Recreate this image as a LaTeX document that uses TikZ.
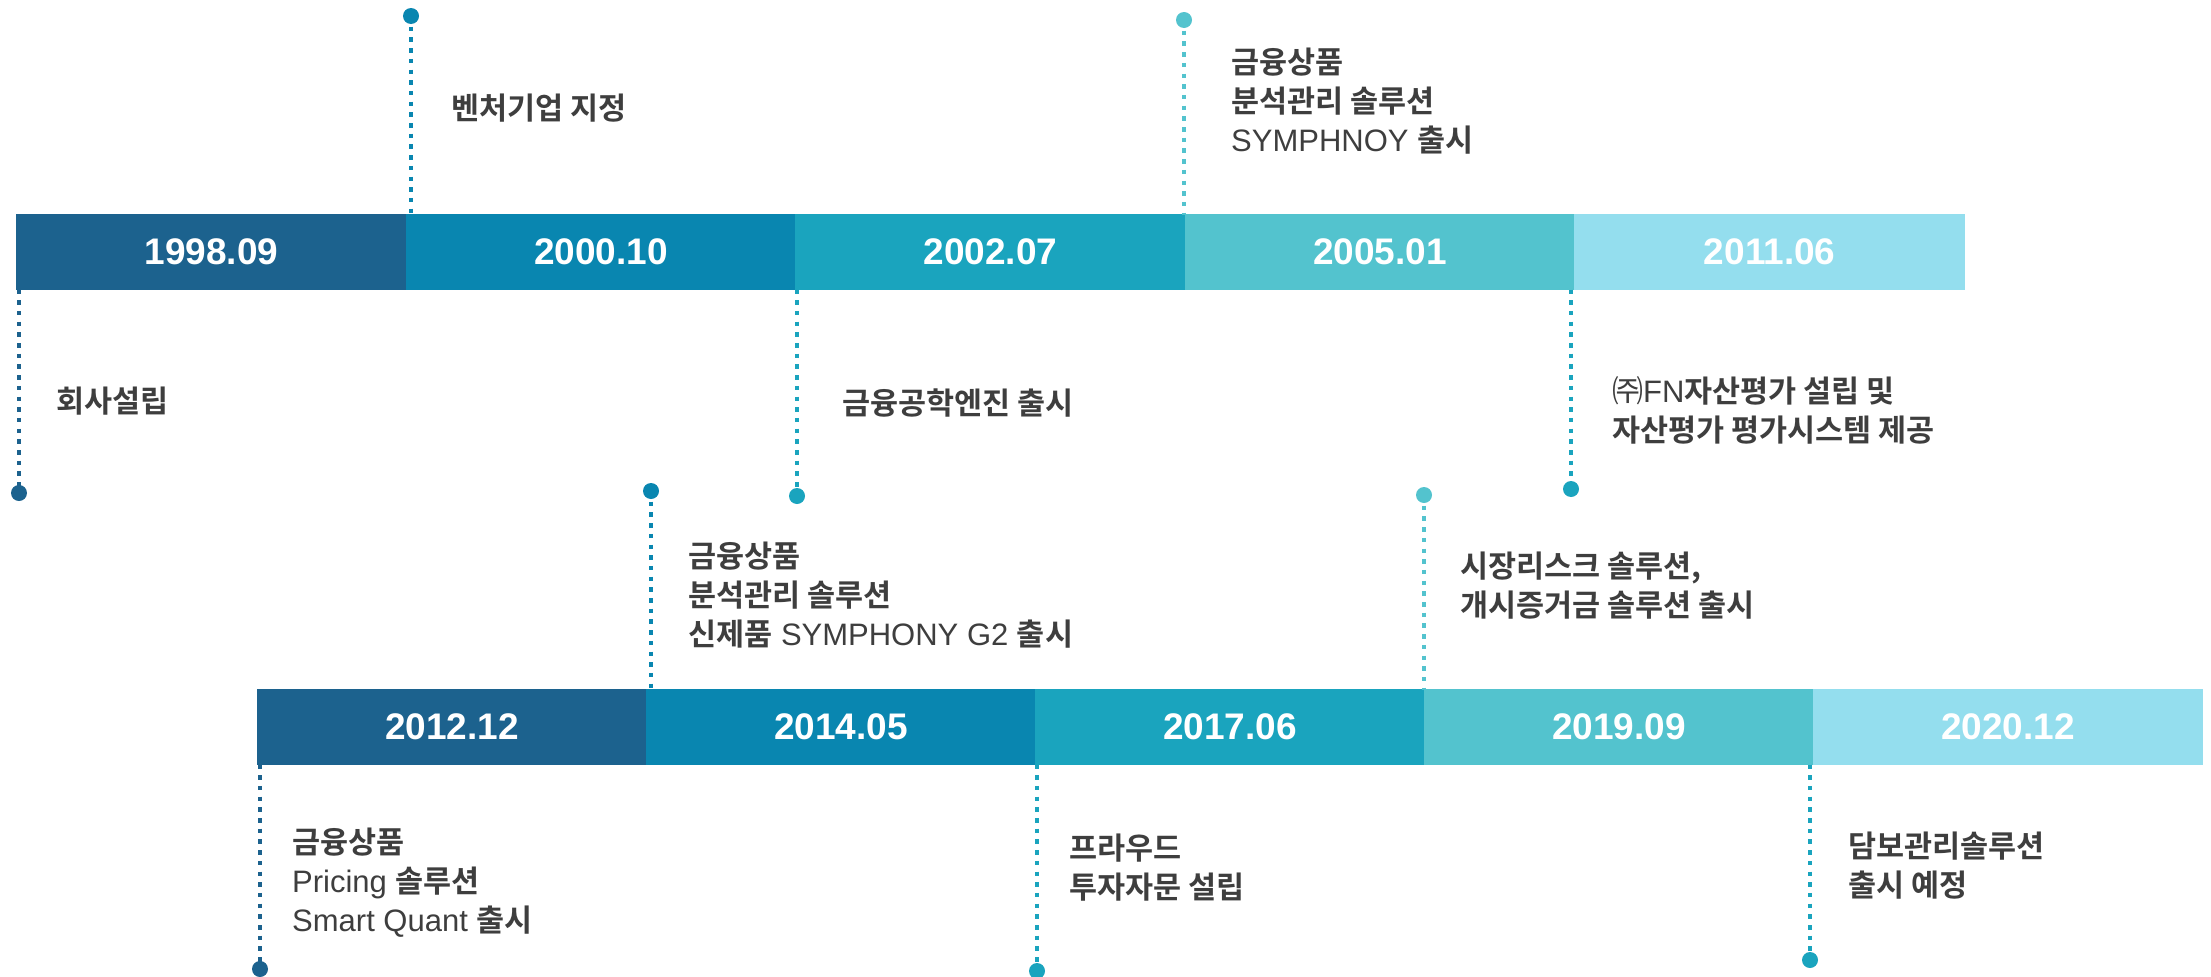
\documentclass[tikz,border=0pt]{standalone}
\usepackage{fontspec}
\setmainfont{Liberation Sans}
\newfontfamily\kr{Noto Sans CJK KR}[BoldFont=* Bold]
\usetikzlibrary{positioning}
\definecolor{segA}{HTML}{1C628E}
\definecolor{segB}{HTML}{0986B0}
\definecolor{segC}{HTML}{1AA4BE}
\definecolor{segD}{HTML}{53C3CE}
\definecolor{segE}{HTML}{94DEEE}
\definecolor{txt}{HTML}{3E3E3E}
\def\ko#1{{\kr\bfseries\fontsize{30.5}{39}\selectfont #1}}

\begin{document}
\begin{tikzpicture}[x=1pt,y=-1pt,
	seg/.style={rectangle,inner sep=0,outer sep=0,minimum width=#1,minimum height=75pt,anchor=west,text=white,font=\bfseries\fontsize{37}{40}\selectfont},
	seg/.default=389.6pt,
	tone/.style={fill=#1,draw=#1,line width=1pt},
	lbl/.style={anchor=west,inner sep=0,align=left,text=txt,font=\fontsize{31}{39}\selectfont},
	dot/.style={circle,inner sep=0,minimum size=16pt},
	lead/.style={line width=4.5pt,dash pattern=on 4.5pt off 6.2pt}]
			%%%%% START %%%%%
			\useasboundingbox (0,0) rectangle (2211,977);
			
			% upper bar
			\node[seg,tone=segA] (t1) at (16.5,252) {1998.09};
			\node[seg,tone=segB,right=0pt of t1] (t2) {2000.10};
			\node[seg,tone=segC,right=0pt of t2] (t3) {2002.07};
			\node[seg,tone=segD,right=0pt of t3] (t4) {2005.01};
			\node[seg,tone=segE,right=0pt of t4] (t5) {2011.06};
			
			% lower bar
			\node[seg=389pt,tone=segA] (b1) at (257.5,727) {2012.12};
			\node[seg=389pt,tone=segB,right=0pt of b1] (b2) {2014.05};
			\node[seg=389pt,tone=segC,right=0pt of b2] (b3) {2017.06};
			\node[seg=389pt,tone=segD,right=0pt of b3] (b4) {2019.09};
			\node[seg=389pt,tone=segE,right=0pt of b4] (b5) {2020.12};
			
			% leaders of the upper bar
			\node[dot,fill=segB] (venture) at (411,16) {};
			\draw[lead,segB] (venture.center) -- (venture |- t2.north);
			\node[dot,fill=segD] (symph) at (1184,20) {};
			\draw[lead,segD] (symph.center) -- (symph |- t4.north);
			\node[dot,fill=segA] (found) at (19,493) {};
			\draw[lead,segA] (found |- t1.south) -- (found.center);
			\node[dot,fill=segC] (engine) at (797,496) {};
			\draw[lead,segC] (engine |- t3.south) -- (engine.center);
			\node[dot,fill=segC] (fnval) at (1571,489) {};
			\draw[lead,segC] (fnval |- t4.south) -- (fnval.center);
			
			% leaders of the lower bar
			\node[dot,fill=segB] (gtwo) at (651,491) {};
			\draw[lead,segB] (gtwo.center) -- (gtwo |- b2.north);
			\node[dot,fill=segD] (risk) at (1424,495) {};
			\draw[lead,segD] (risk.center) -- (risk |- b4.north);
			\node[dot,fill=segA] (quant) at (260,969) {};
			\draw[lead,segA] (quant |- b1.south) -- (quant.center);
			\node[dot,fill=segC] (fraud) at (1037,971) {};
			\draw[lead,segC] (fraud |- b3.south) -- (fraud.center);
			\node[dot,fill=segC] (colla) at (1810,960) {};
			\draw[lead,segC] (colla |- b5.south) -- (colla.center);
			
			% texts
			\node[lbl] (ventureT) at (451,108) {\ko{벤처기업 지정}};
			\node[lbl] (symphT) at (1231,101) {\ko{금융상품}\\\ko{분석관리 솔루션}\\SYMPHNOY \ko{출시}};
			\node[lbl] (foundT) at (56,401) {\ko{회사설립}};
			\node[lbl] (engineT) at (842,403) {\ko{금융공학엔진 출시}};
			\node[lbl] (fnvalT) at (1612,410) {{\kr ㈜}FN\ko{자산평가 설립 및}\\\ko{자산평가 평가시스템 제공}};
			\node[lbl] (gtwoT) at (688,595) {\ko{금융상품}\\\ko{분석관리 솔루션}\\\ko{신제품} SYMPHONY G2 \ko{출시}};
			\node[lbl] (riskT) at (1460,586) {\ko{시장리스크 솔루션,}\\\ko{개시증거금 솔루션 출시}};
			\node[lbl] (quantT) at (292,883) {\ko{금융상품}\\Pricing \ko{솔루션}\\Smart Quant \ko{출시}};
			\node[lbl] (fraudT) at (1069,868) {\ko{프라우드}\\\ko{투자자문 설립}};
			\node[lbl] (collaT) at (1848,866) {\ko{담보관리솔루션}\\\ko{출시 예정}};
			
			%%%%% END %%%%%
		\end{tikzpicture}
\end{document}
